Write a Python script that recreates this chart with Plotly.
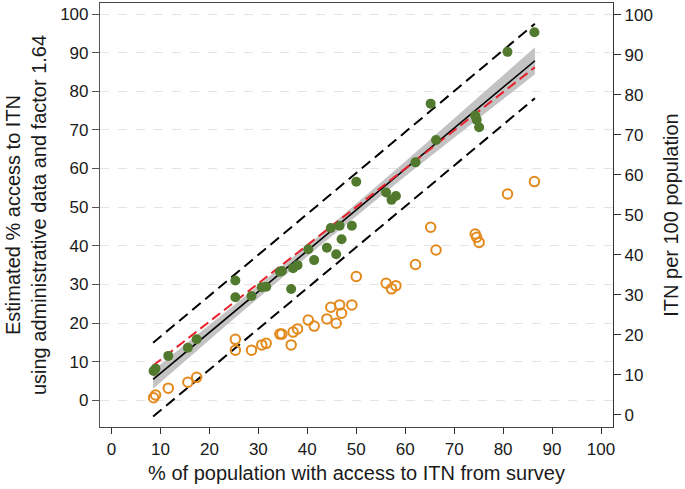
import plotly.graph_objects as go

# Survey access (%) for each country/region
survey_access = [8.6, 9.0, 11.6, 15.6, 17.4, 25.3, 25.3, 28.6, 30.7, 31.6, 34.4, 34.8, 36.7, 37.1, 38.0,
                 40.2, 41.4, 44.0, 44.8, 45.9, 46.6, 47.0, 49.1, 50.0, 56.1, 57.2, 58.1, 62.1, 65.2, 66.3,
                 74.3, 74.6, 75.1, 80.9, 86.4]
# Estimated access from administrative data (left axis)
estimated_access = [7.6, 8.2, 11.5, 13.6, 15.8, 31.0, 26.7, 27.0, 29.3, 29.4, 33.3, 33.5, 28.8, 34.2, 35.0,
                    39.1, 36.3, 39.5, 44.6, 37.8, 45.2, 41.7, 45.2, 56.6, 53.8, 51.9, 52.9, 61.6, 76.8, 67.4,
                    73.7, 72.6, 70.7, 90.2, 95.3]
# ITN per 100 population (right axis)
itn_per_100 = [4.3, 5.0, 6.7, 8.2, 9.4, 18.9, 16.2, 16.2, 17.5, 17.9, 20.2, 20.2, 17.5, 20.7, 21.5,
               23.7, 22.2, 24.0, 26.9, 22.9, 27.5, 25.4, 27.5, 34.6, 32.9, 31.5, 32.3, 37.6, 46.9, 41.2,
               45.2, 44.4, 43.1, 55.2, 58.3]

# Fitted regression line, confidence band and prediction interval
line_x = [8.5, 86.5]
fit_y = [5.4, 87.9]
pred_upper = [14.9, 97.5]
pred_lower = [-4.2, 78.2]
ref_y = [9.0, 86.2]
band_x = [8.5, 25, 42, 60, 86.5]
band_hi = [7.8, 24.6, 42.2, 61.8, 91.4]
band_lo = [3.0, 21.1, 39.4, 58.0, 84.4]

tick_vals = [0, 10, 20, 30, 40, 50, 60, 70, 80, 90, 100]

GREEN = "#527a2e"
ORANGE = "#e3891c"

fig = go.Figure()
fig.add_trace(go.Scatter(x=band_x, y=band_lo, mode="lines", line=dict(width=0, color="#c3c3c3"),
                         hoverinfo="skip", showlegend=False))
fig.add_trace(go.Scatter(x=band_x, y=band_hi, mode="lines", line=dict(width=0, color="#c3c3c3"),
                         fill="tonexty", fillcolor="#c3c3c3", hoverinfo="skip", showlegend=False))
fig.add_trace(go.Scatter(x=line_x, y=pred_upper, mode="lines",
                         line=dict(color="black", width=2, dash="11px,6px"), showlegend=False))
fig.add_trace(go.Scatter(x=line_x, y=pred_lower, mode="lines",
                         line=dict(color="black", width=2, dash="11px,6px"), showlegend=False))
fig.add_trace(go.Scatter(x=line_x, y=fit_y, mode="lines",
                         line=dict(color="black", width=1.6), showlegend=False))
fig.add_trace(go.Scatter(x=line_x, y=ref_y, mode="lines",
                         line=dict(color="#e8212b", width=2, dash="10px,5px"), showlegend=False))
fig.add_trace(go.Scatter(x=survey_access, y=estimated_access, mode="markers",
                         marker=dict(color=GREEN, size=10, line=dict(width=0)), showlegend=False))
fig.add_trace(go.Scatter(x=survey_access, y=itn_per_100, mode="markers", yaxis="y2",
                         marker=dict(symbol="circle-open", color=ORANGE, size=9.5, line=dict(width=2, color=ORANGE)),
                         showlegend=False))

font = dict(family="Arial, Liberation Sans, sans-serif", size=17, color="#1a1a1a")
fig.update_layout(
    width=685, height=489,
    margin=dict(l=100, r=72, t=3, b=62),
    paper_bgcolor="white", plot_bgcolor="white",
    font=font,
    showlegend=False,
    xaxis=dict(range=[-2.35, 102.45], tickvals=tick_vals, ticks="outside", ticklen=6, tickcolor="#333",
               showline=True, linecolor="#444", linewidth=1.2, mirror=True, showgrid=False, zeroline=False,
               automargin=False,
               title=dict(text="% of population with access to ITN from survey", standoff=8),
               tickfont=font),
    yaxis=dict(range=[-6.9, 102.85], tickvals=tick_vals, ticks="outside", ticklen=7, tickcolor="#555",
               showline=True, linecolor="#555", linewidth=1.2, showgrid=True, gridcolor="#e4e4e4",
               griddash="dash", gridwidth=1, zeroline=False, automargin=False,
               title=dict(text="Estimated % access to ITN<br>using administrative data and factor 1.64", standoff=8),
               tickfont=font),
    yaxis2=dict(range=[-3, 102.9], tickvals=tick_vals, ticks="outside", ticklen=7, tickcolor="#333",
                overlaying="y", side="right", showline=True, linecolor="#333", linewidth=1.2,
                showgrid=False, zeroline=False, automargin=False,
                title=dict(text="ITN per 100 population", standoff=12), tickfont=font),
)

fig.write_html("out.html", config={"displayModeBar": False},
               post_script="document.body.style.margin='0';document.body.style.padding='0';")
